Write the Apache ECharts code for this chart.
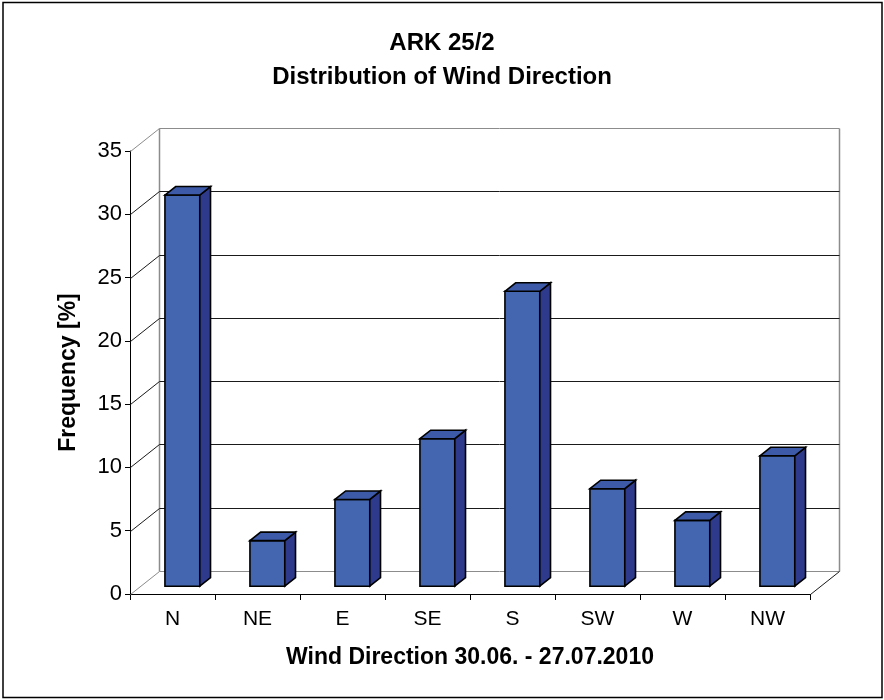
<!DOCTYPE html>
<html><head><meta charset="utf-8">
<script src="https://cdn.jsdelivr.net/npm/echarts@6/dist/echarts.min.js"></script>
<style>html,body{margin:0;padding:0;background:#fff}#c{width:884px;height:700px}</style>
</head><body><div id="c"></div>
<script>
const titleLines = ['ARK 25/2', 'Distribution of Wind Direction'];
const categories = ['N', 'NE', 'E', 'SE', 'S', 'SW', 'W', 'NW'];
const frequency = [30.9, 3.6, 6.85, 11.65, 23.3, 7.7, 5.2, 10.3];
const yTicks = [0, 5, 10, 15, 20, 25, 30, 35];
const xAxisName = 'Wind Direction 30.06. - 27.07.2010';
const yAxisName = 'Frequency [%]';

// pseudo-3D projection (pixel offset of the back wall)
const DX = 29, DY = -23;
const F0 = 0.34, F1 = 0.71;   // bar front / back depth fractions
const BAR_W = 0.41;           // bar width as fraction of band
const FONT = 'Liberation Sans, Arial, sans-serif';
const GRAY = '#8c8c8c', DARK = '#1a1a1a';

function px(v) { return Math.round(v) + 0.5; }

function renderWall(params, api) {
  const v = api.value(1);
  const cs = params.coordSys;
  const y = px(api.coord([0, v])[1]);
  const x0 = px(cs.x), x1 = px(cs.x + cs.width);
  const yMax = yTicks[yTicks.length - 1];
  const edge = (v === 0 || v === yMax);
  const col = edge ? GRAY : DARK;
  const children = [
    { type: 'line', shape: { x1: x0 + DX, y1: y + DY, x2: x1 + DX, y2: y + DY }, style: { stroke: col, lineWidth: 1 } },
    { type: 'line', shape: { x1: x0, y1: y, x2: x0 + DX, y2: y + DY }, style: { stroke: col, lineWidth: 1 } }
  ];
  if (v === 0) {
    const yt = px(api.coord([0, yMax])[1]);
    children.push(
      { type: 'line', shape: { x1: x0 + DX, y1: y + DY, x2: x0 + DX, y2: yt + DY }, style: { stroke: GRAY, lineWidth: 1.5 } },
      { type: 'line', shape: { x1: x1 + DX, y1: y + DY, x2: x1 + DX, y2: yt + DY }, style: { stroke: GRAY, lineWidth: 1.5 } },
      { type: 'line', shape: { x1: x1, y1: y, x2: x1 + DX, y2: y + DY }, style: { stroke: DARK, lineWidth: 1 } }
    );
  }
  return { type: 'group', children: children };
}

function renderBar(params, api) {
  const i = api.value(0), v = api.value(1);
  const base = api.coord([i, 0]), top = api.coord([i, v]);
  const band = api.size([1, 0])[0];
  const w = band * BAR_W;
  const fx = base[0] + F0 * DX - w / 2;
  const fy0 = base[1] + F0 * DY, fy1 = top[1] + F0 * DY;
  const ddx = (F1 - F0) * DX, ddy = (F1 - F0) * DY;
  const st = { stroke: '#000', lineWidth: 1.6, lineJoin: 'miter' };
  return {
    type: 'group',
    children: [
      { type: 'polygon', shape: { points: [[fx, fy1], [fx + w, fy1], [fx + w, fy0], [fx, fy0]] },
        style: Object.assign({ fill: '#4466b0' }, st) },
      { type: 'polygon', shape: { points: [[fx + w, fy1], [fx + w + ddx, fy1 + ddy], [fx + w + ddx, fy0 + ddy], [fx + w, fy0]] },
        style: Object.assign({ fill: '#2e3a8c' }, st) },
      { type: 'polygon', shape: { points: [[fx, fy1], [fx + ddx, fy1 + ddy], [fx + w + ddx, fy1 + ddy], [fx + w, fy1]] },
        style: Object.assign({ fill: '#3d5aa9' }, st) }
    ]
  };
}

const chart = echarts.init(document.getElementById('c'), null, { renderer: 'canvas' });
chart.setOption({
  animation: false,
  backgroundColor: '#fff',
  title: {
    text: titleLines.join('\n'),
    left: 'center',
    top: 21,
    textStyle: { fontSize: 24, fontWeight: 'bold', color: '#000', fontFamily: FONT, lineHeight: 34 }
  },
  graphic: [{
    type: 'rect', shape: { x: 3, y: 2.5, width: 879, height: 695 },
    style: { fill: 'none', stroke: '#000', lineWidth: 1.5 }, silent: true
  }],
  grid: { left: 130, right: 74, top: 151, bottom: 106 },
  xAxis: {
    type: 'category',
    data: categories,
    boundaryGap: true,
    axisLine: { show: true, lineStyle: { color: '#000', width: 1 } },
    axisTick: { show: true, length: 6, lineStyle: { color: '#000' } },
    axisLabel: { color: '#000', fontSize: 21, fontFamily: FONT, margin: 15 },
    splitLine: { show: false },
    name: xAxisName,
    nameLocation: 'middle',
    nameGap: 52,
    nameTextStyle: { color: '#000', fontSize: 23, fontWeight: 'bold', fontFamily: FONT }
  },
  yAxis: {
    type: 'value',
    min: 0, max: 35, interval: 5,
    axisLine: { show: true, lineStyle: { color: '#000', width: 1 } },
    axisTick: { show: true, length: 5, lineStyle: { color: '#000' } },
    axisLabel: { color: '#000', fontSize: 22, fontFamily: FONT, margin: 8 },
    splitLine: { show: false },
    name: yAxisName,
    nameLocation: 'middle',
    nameGap: 50,
    nameTextStyle: { color: '#000', fontSize: 23, fontWeight: 'bold', fontFamily: FONT }
  },
  series: [
    { type: 'custom', name: 'walls', renderItem: renderWall, data: yTicks.map(v => [0, v]), encode: { x: 0, y: 1 }, silent: true, z: 1 },
    { type: 'custom', name: 'Frequency', renderItem: renderBar, data: frequency.map((v, i) => [i, v]), encode: { x: 0, y: 1 }, z: 3 }
  ]
});
</script>
</body></html>
